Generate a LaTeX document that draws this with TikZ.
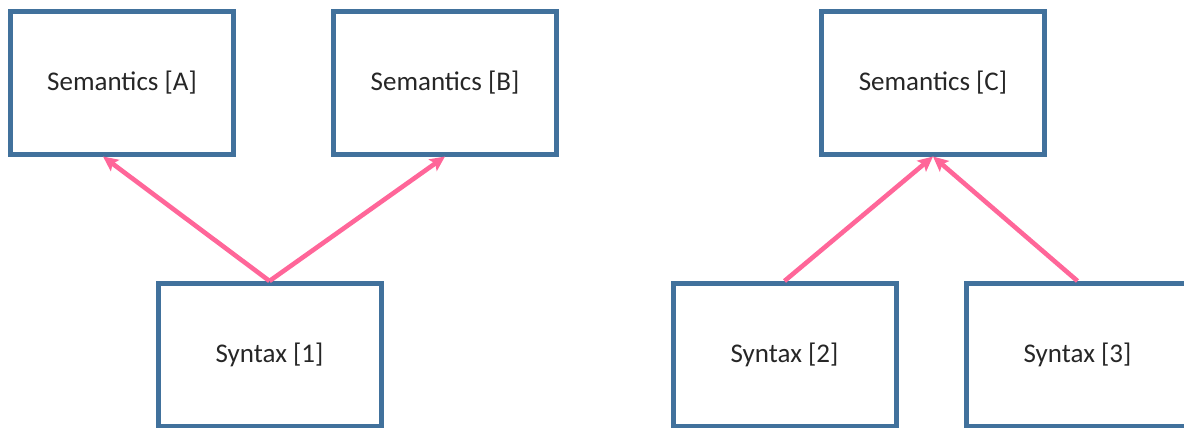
\documentclass[tikz,border=0pt]{standalone}
\usepackage{fontspec}
\setmainfont{Carlito}
\usepackage{tikz}
\usetikzlibrary{arrows.meta,positioning}

\definecolor{boxblue}{RGB}{65,113,156}
\definecolor{linkpink}{RGB}{255,102,153}

\begin{document}
\begin{tikzpicture}[x=0.5pt,y=-0.5pt,
		box/.style={draw=boxblue,line width=2.5pt,minimum width=111.5pt,minimum height=71.5pt,
			inner sep=0pt,font=\fontsize{13.5}{16}\selectfont,text=black!85},
		link/.style={draw=linkpink,line width=2.3pt,-{Stealth[length=7.5pt,width=7pt,inset=1.5pt]}}]
		\useasboundingbox (0,0) rectangle (1184,428);
		\clip (0,0) rectangle (1184,428);
		\draw 
			(122,82.5) node [box] (a) {\raisebox{-1pt}{Semantics [A]}}
			(445,82.5) node [box] (b) {\raisebox{-1pt}{Semantics [B]}}
			(933,82.5) node [box] (c) {\raisebox{-1pt}{Semantics [C]}}
			(269.5,355) node [box] (s1) {Syntax [1]}
			(784.5,355) node [box] (s2) {Syntax [2]}
			(1077.5,355) node [box] (s3) {Syntax [3]}
			;
		\path
			(s1.north) 	edge [link] 	([xshift=-9.5pt]a.south)
						edge [link] 	(b.south)
			(s2.north) 	edge [link] 	(c.south)
			(s3.north) 	edge [link] 	(c.south)
			;
	\end{tikzpicture}
\end{document}
